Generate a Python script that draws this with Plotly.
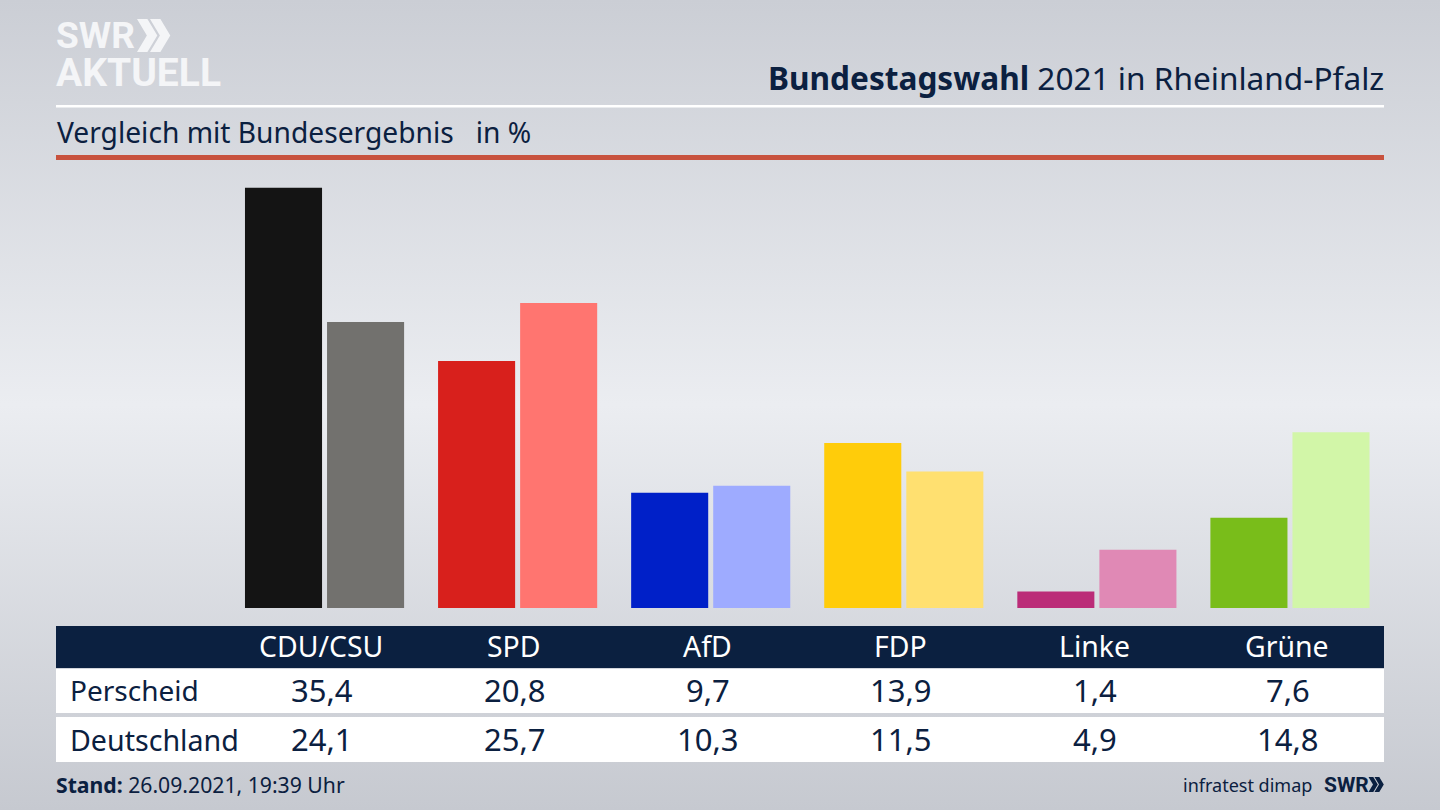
# Bundestagswahl 2021: Perscheid vs. Deutschland, SWR style bar chart with table
import base64
import plotly.graph_objects as go

parties = ["CDU/CSU", "SPD", "AfD", "FDP", "Linke", "Grüne"]
perscheid = [35.4, 20.8, 9.7, 13.9, 1.4, 7.6]
deutschland = [24.1, 25.7, 10.3, 11.5, 4.9, 14.8]
colors_local = ["#141414", "#d8201c", "#0020c8", "#ffcc0a", "#bb2c78", "#79bd1a"]
colors_national = ["#72716e", "#ff7570", "#9eabff", "#ffe070", "#e089b5", "#d2f6a8"]

NAVY = "#0b2040"
FONT = "Noto Sans"
LOGO_FONT = "Roboto"
W, H = 1440, 810


def px(x):
    return x / W


def py(y):
    return 1 - y / H


def rect(x0, y0, x1, y1, color):
    return dict(type="rect", xref="paper", yref="paper", x0=px(x0), x1=px(x1),
                y0=py(y0), y1=py(y1), fillcolor=color, line_width=0, layer="below")


def chevrons(x, y0, y1, w, color):
    # the two arrow heads of the SWR logo
    h = (y1 - y0) / 2
    out = []
    for dx in (0, w):
        pts = [(x + dx, y0), (x + dx + w * 0.8, y0), (x + dx + w * 0.8 + h * 0.6, y0 + h),
               (x + dx + w * 0.8, y1), (x + dx, y1), (x + dx + h * 0.6, y0 + h)]
        path = "M" + " L".join(f"{px(a):.5f},{py(b):.5f}" for a, b in pts) + " Z"
        out.append(dict(type="path", xref="paper", yref="paper", path=path,
                        fillcolor=color, line_width=0))
    return out


def label(x, y, text, size, color=NAVY, anchor="center", family=FONT):
    return dict(xref="paper", yref="paper", x=px(x), y=py(y), text=text, showarrow=False,
                xanchor=anchor, yanchor="middle", align=anchor,
                font=dict(family=family, size=size, color=color))


def number(v):
    return f"{v:.1f}".replace(".", ",")


# background gradient, light in the middle and darker to top and bottom
svg = f"""<svg xmlns="http://www.w3.org/2000/svg" width="{W}" height="{H}">
<defs><linearGradient id="g" x1="0" y1="0" x2="0" y2="1">
<stop offset="0" stop-color="#cbced5"/><stop offset="0.5" stop-color="#ebedf1"/>
<stop offset="1" stop-color="#c6c9d0"/></linearGradient></defs>
<rect width="{W}" height="{H}" fill="url(#g)"/></svg>"""
bg = "data:image/svg+xml;base64," + base64.b64encode(svg.encode()).decode()

fig = go.Figure()
fig.add_bar(name="Perscheid", x=parties, y=perscheid, marker_color=colors_local, marker_line_width=0)
fig.add_bar(name="Deutschland", x=parties, y=deutschland, marker_color=colors_national, marker_line_width=0)

shapes = [
    rect(56, 105, 1384, 107.5, "white"),
    rect(56, 155, 1384, 160, "#c8523e"),
    rect(56, 626, 1384, 668, NAVY),
    rect(56, 669, 1384, 713, "white"),
    rect(56, 717, 1384, 762, "white"),
]
shapes += chevrons(137, 19, 52, 13, "#f4f5f7")
shapes += chevrons(1368.5, 777, 792, 6, NAVY)

annotations = [
    label(54, 36, "<b>SWR</b>", 37, "#f4f5f7", "left", LOGO_FONT),
    label(54, 73, "<b>AKTUELL</b>", 39, "#f4f5f7", "left", LOGO_FONT),
    label(1386, 77, "<b>Bundestagswahl</b> 2021 in Rheinland-Pfalz", 31.6, NAVY, "right"),
    label(55, 132, "Vergleich mit Bundesergebnis   in %", 28.2, NAVY, "left"),
    label(67.5, 690, "Perscheid", 28, NAVY, "left"),
    label(67.5, 739, "Deutschland", 28.6, NAVY, "left"),
    label(54, 784.5, "<b>Stand:</b> 26.09.2021, 19:39 Uhr", 21.2, NAVY, "left"),
    label(1314, 785, "infratest dimap", 18, NAVY, "right"),
    label(1322, 785, "<b>SWR</b>", 21, NAVY, "left", LOGO_FONT),
]
col_x = [321, 514, 707, 900, 1094, 1287]
for i, name in enumerate(parties):
    annotations.append(label(col_x[i], 646, name, 28.4, "white"))
    annotations.append(label(col_x[i] + 0.5, 690, number(perscheid[i]), 31))
    annotations.append(label(col_x[i] + 0.5, 739, number(deutschland[i]), 31))

fig.update_layout(
    width=W,
    height=H,
    margin=dict(l=0, r=0, t=0, b=0),
    barmode="group",
    bargap=0.15,
    bargroupgap=0.061,
    showlegend=False,
    paper_bgcolor="#dfe1e6",
    plot_bgcolor="rgba(0,0,0,0)",
    xaxis=dict(domain=[px(228), px(1386.5)], visible=False),
    yaxis=dict(domain=[py(608), py(170)], range=[0, 438 / 11.87], visible=False),
    shapes=shapes,
    annotations=annotations,
    images=[dict(source=bg, xref="paper", yref="paper", x=0, y=1, sizex=1, sizey=1,
                 sizing="stretch", xanchor="left", yanchor="top", layer="below")],
)

fig.write_html("out.html", config=dict(displayModeBar=False),
               post_script="document.body.style.margin='0';")
